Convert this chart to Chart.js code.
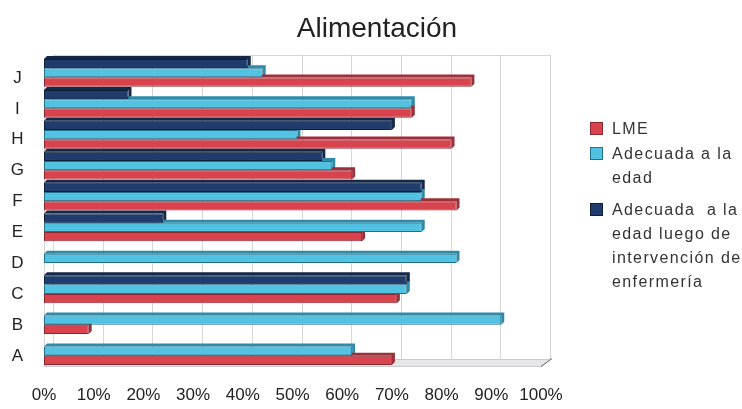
<!DOCTYPE html>
<html>
<head>
<meta charset="utf-8">
<title>Alimentación</title>
<script src="https://cdn.jsdelivr.net/npm/chart.js@4.4.1/dist/chart.umd.min.js"></script>
<style>
  html, body { margin: 0; padding: 0; background: #fff; }
  #wrap { position: relative; width: 742px; height: 409px; overflow: hidden; }
  #chart { position: absolute; left: 0; top: 0; }
  #title {
    position: absolute; left: 0; top: 14px; width: 754px; text-align: center;
    font-family: 'Liberation Sans', Arial, sans-serif; font-size: 28px; line-height: 28px; color: #222;
  }
  #legend {
    position: absolute; left: 590px; top: 117px;
    font-family: 'Liberation Sans', Arial, sans-serif;
    font-size: 16px; color: #333; letter-spacing: 1.4px;
  }
  .item { position: relative; padding-left: 22px; line-height: 24px; white-space: pre; }
  .box { position: absolute; left: 0; top: 5px; width: 11px; height: 11px; border: 1px solid; }
</style>
</head>
<body>
<div id="wrap">
  <canvas id="chart" width="742" height="409"></canvas>
  <div id="title">Alimentación</div>
  <div id="legend"></div>
</div>
<script>
// categories listed top to bottom
var categories = ['J', 'I', 'H', 'G', 'F', 'E', 'D', 'C', 'B', 'A'];

// percentages per category (null = no bar)
var lme = [86, 74, 82, 62, 83, 64, null, 71, 9, 70];
var adecuada = [44, 74, 51, 58, 76, 76, 83, 73, 92, 62];
var adecuadaLuego = [41, 17, 70, 56, 76, 24, null, 73, null, null];

var xTicks = [0, 10, 20, 30, 40, 50, 60, 70, 80, 90, 100];

var seriesLines = [
  ['LME'],
  ['Adecuada a la', 'edad'],
  ['Adecuada  a la', 'edad luego de', 'intervención de', 'enfermería']
];

var DX = 9, DY = 7, WALL_TOP = 3, BAR_DEPTH = 3;

// back wall, floor and bar depth faces, drawn under the bars
var depthPlugin = {
  id: 'depth',
  beforeDatasetsDraw: function(chart) {
    var ctx = chart.ctx, a = chart.chartArea, x = chart.scales.x;
    ctx.save();

    ctx.fillStyle = '#e6e6ea';
    ctx.strokeStyle = '#c9c9ce';
    ctx.lineWidth = 1;
    ctx.beginPath();
    ctx.moveTo(a.left, a.bottom);
    ctx.lineTo(a.right, a.bottom);
    ctx.lineTo(a.right + DX, a.bottom - DY);
    ctx.lineTo(a.left + DX, a.bottom - DY);
    ctx.closePath();
    ctx.fill();
    ctx.stroke();

    ctx.strokeStyle = '#d6d6d6';
    x.ticks.forEach(function(t) {
      var px = Math.round(x.getPixelForValue(t.value) + DX) + 0.5;
      ctx.beginPath();
      ctx.moveTo(px, a.top - WALL_TOP);
      ctx.lineTo(px, a.bottom - DY);
      ctx.stroke();
    });
    ctx.beginPath();
    ctx.moveTo(a.left + DX, Math.round(a.top - WALL_TOP) + 0.5);
    ctx.lineTo(a.right + DX, Math.round(a.top - WALL_TOP) + 0.5);
    ctx.stroke();
    ctx.beginPath();
    ctx.moveTo(a.left + 0.5, a.top);
    ctx.lineTo(a.left + 0.5, a.bottom);
    ctx.stroke();

    ctx.strokeStyle = '#666';
    ctx.beginPath();
    ctx.moveTo(a.right, a.bottom);
    ctx.lineTo(a.right + DX + 2, a.bottom - DY - 1);
    ctx.stroke();

    chart.data.datasets.forEach(function(ds, i) {
      var meta = chart.getDatasetMeta(i);
      meta.data.forEach(function(bar, j) {
        if (ds.data[j] == null) return;
        var p = bar.getProps(['x', 'y', 'base', 'height'], true);
        var top = p.y - p.height / 2, bot = p.y + p.height / 2;
        ctx.fillStyle = ds.sideColor;
        ctx.beginPath();
        ctx.moveTo(p.base, top);
        ctx.lineTo(p.base + BAR_DEPTH, top - BAR_DEPTH);
        ctx.lineTo(p.x + BAR_DEPTH, top - BAR_DEPTH);
        ctx.lineTo(p.x + BAR_DEPTH, bot - BAR_DEPTH);
        ctx.lineTo(p.x, bot);
        ctx.lineTo(p.x, top);
        ctx.closePath();
        ctx.fill();
      });
    });
    ctx.restore();
  }
};

var colors = {
  lme: { fill: '#d9434d', border: '#8a2830', side: '#9c3038' },
  adecuada: { fill: '#52c2e2', border: '#22718c', side: '#2f8aa8' },
  luego: { fill: '#1f3c6c', border: '#0f1d36', side: '#14284a' }
};

// drawn top to bottom inside each category: luego, adecuada, lme
var datasets = [
  { label: seriesLines[2].join(' '), data: adecuadaLuego, backgroundColor: colors.luego.fill, borderColor: colors.luego.border, sideColor: colors.luego.side },
  { label: seriesLines[1].join(' '), data: adecuada, backgroundColor: colors.adecuada.fill, borderColor: colors.adecuada.border, sideColor: colors.adecuada.side },
  { label: seriesLines[0].join(' '), data: lme, backgroundColor: colors.lme.fill, borderColor: colors.lme.border, sideColor: colors.lme.side }
];
datasets.forEach(function(d) {
  d.borderWidth = 1;
  d.borderSkipped = false;
  d.categoryPercentage = 0.9;
  d.barPercentage = 1.0;
});

var font = "'Liberation Sans', Arial, sans-serif";

new Chart(document.getElementById('chart'), {
  type: 'bar',
  data: { labels: categories, datasets: datasets },
  options: {
    indexAxis: 'y',
    responsive: false,
    animation: false,
    devicePixelRatio: 1,
    layout: { padding: { left: 0, right: 201, top: 57.5, bottom: 3.6 } },
    plugins: {
      legend: { display: false },
      tooltip: { enabled: false },
      title: { display: false }
    },
    scales: {
      x: {
        min: 0, max: 100,
        afterBuildTicks: function(scale) {
          scale.ticks = xTicks.map(function(v) { return { value: v }; });
        },
        afterFit: function(scale) { scale.height = 38.9; },
        ticks: {
          color: '#222', padding: 18.5, maxRotation: 0,
          font: { family: font, size: 17 },
          callback: function(v) { return v + '%'; }
        },
        grid: { display: false, drawTicks: false },
        border: { display: false }
      },
      y: {
        afterFit: function(scale) { scale.width = 44; },
        ticks: {
          color: '#222', padding: 20, crossAlign: 'center', labelOffset: 5,
          font: { family: font, size: 17 }
        },
        grid: { display: false, drawTicks: false },
        border: { display: false }
      }
    }
  },
  plugins: [depthPlugin]
});

// legend: LME first, in series order
var legend = document.getElementById('legend');
var gaps = [1, 8, 0];
[['lme', 0], ['adecuada', 1], ['luego', 2]].forEach(function(s, n) {
  var c = colors[s[0]];
  var item = document.createElement('div');
  item.className = 'item';
  item.style.marginBottom = gaps[n] + 'px';
  var box = document.createElement('span');
  box.className = 'box';
  box.style.background = c.fill;
  box.style.borderColor = c.border;
  item.appendChild(box);
  seriesLines[s[1]].forEach(function(line, k) {
    if (k) item.appendChild(document.createElement('br'));
    item.appendChild(document.createTextNode(line));
  });
  legend.appendChild(item);
});
</script>
</body>
</html>
